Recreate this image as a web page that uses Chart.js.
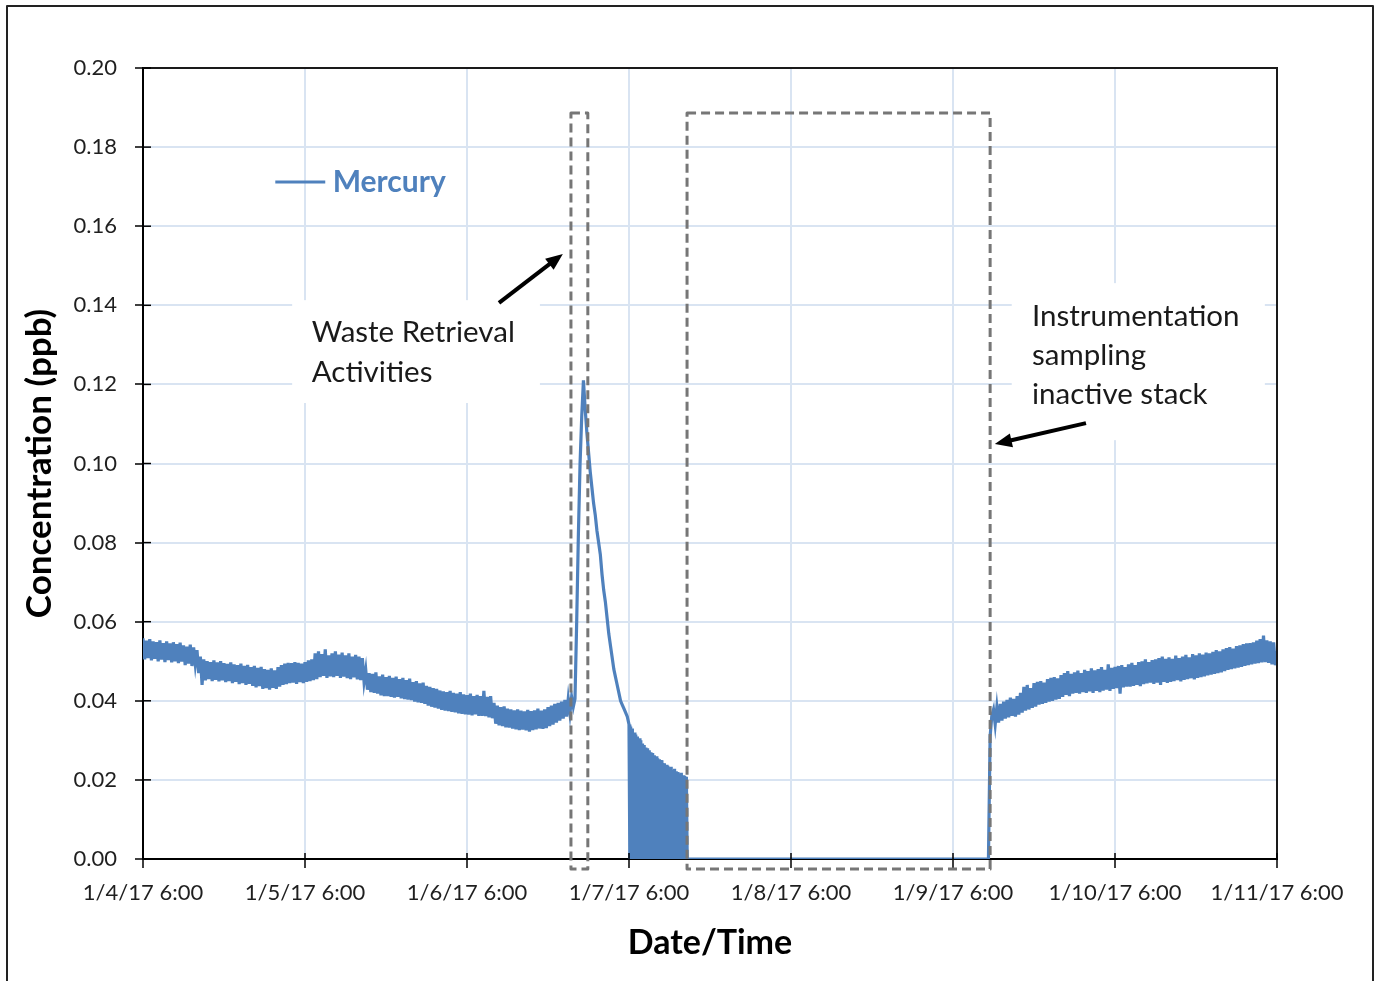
<!DOCTYPE html>
<html>
<head>
<meta charset="utf-8">
<title>Mercury concentration</title>
<script src="https://cdn.jsdelivr.net/npm/chart.js@4.4.0/dist/chart.umd.min.js"></script>
<style>
  html, body { margin: 0; padding: 0; background: #fff; overflow: hidden; }
  #wrap { position: relative; width: 1376px; height: 981px; }
</style>
</head>
<body>
<div id="wrap"><canvas id="mercuryChart"></canvas></div>
<script>
// x is hours after 1/4/17 6:00, one tick per day
const dateLabels = ['1/4/17 6:00', '1/5/17 6:00', '1/6/17 6:00', '1/7/17 6:00',
                    '1/8/17 6:00', '1/9/17 6:00', '1/10/17 6:00', '1/11/17 6:00'];
const yTicks = [0, 0.02, 0.04, 0.06, 0.08, 0.10, 0.12, 0.14, 0.16, 0.18, 0.20];

// baseline before the spike, every 15 min from 0 h (one row = 2 h)
const startBefore = 0, stepBefore = 0.25;
const mercuryBefore = [
    0.0558, 0.0505, 0.0552, 0.0508, 0.0556, 0.0502, 0.0550, 0.0506,
    0.0548, 0.0500, 0.0553, 0.0504, 0.0546, 0.0498, 0.0550, 0.0503,
    0.0545, 0.0497, 0.0548, 0.0500, 0.0543, 0.0495, 0.0547, 0.0499,
    0.0540, 0.0490, 0.0537, 0.0494, 0.0542, 0.0488, 0.0535, 0.0492,
    0.0528, 0.0470, 0.0512, 0.0440, 0.0505, 0.0452, 0.0500, 0.0455,
    0.0498, 0.0450, 0.0502, 0.0453, 0.0497, 0.0449, 0.0500, 0.0452,
    0.0495, 0.0447, 0.0493, 0.0450, 0.0497, 0.0445, 0.0492, 0.0448,
    0.0490, 0.0442, 0.0494, 0.0445, 0.0488, 0.0440, 0.0491, 0.0443,
    0.0485, 0.0438, 0.0488, 0.0434, 0.0483, 0.0437, 0.0486, 0.0430,
    0.0480, 0.0432, 0.0478, 0.0428, 0.0482, 0.0433, 0.0477, 0.0430,
    0.0485, 0.0436, 0.0490, 0.0440, 0.0494, 0.0442, 0.0496, 0.0445,
    0.0495, 0.0446, 0.0498, 0.0443, 0.0496, 0.0447, 0.0494, 0.0445,
    0.0498, 0.0448, 0.0502, 0.0450, 0.0505, 0.0452, 0.0520, 0.0455,
    0.0525, 0.0460, 0.0518, 0.0463, 0.0530, 0.0458, 0.0515, 0.0462,
    0.0520, 0.0460, 0.0525, 0.0463, 0.0517, 0.0458, 0.0522, 0.0461,
    0.0515, 0.0457, 0.0520, 0.0455, 0.0512, 0.0459, 0.0516, 0.0454,
    0.0512, 0.0452, 0.0508, 0.0448, 0.0478, 0.0428, 0.0470, 0.0422,
    0.0468, 0.0420, 0.0472, 0.0418, 0.0462, 0.0414, 0.0466, 0.0412,
    0.0460, 0.0412, 0.0463, 0.0410, 0.0458, 0.0408, 0.0461, 0.0410,
    0.0455, 0.0406, 0.0458, 0.0404, 0.0452, 0.0403, 0.0456, 0.0402,
    0.0447, 0.0398, 0.0450, 0.0396, 0.0444, 0.0395, 0.0446, 0.0392,
    0.0438, 0.0388, 0.0435, 0.0385, 0.0432, 0.0383, 0.0430, 0.0380,
    0.0426, 0.0377, 0.0424, 0.0375, 0.0422, 0.0374, 0.0425, 0.0372,
    0.0420, 0.0371, 0.0418, 0.0368, 0.0422, 0.0367, 0.0416, 0.0366,
    0.0414, 0.0365, 0.0418, 0.0363, 0.0412, 0.0366, 0.0415, 0.0362,
    0.0412, 0.0362, 0.0425, 0.0361, 0.0410, 0.0358, 0.0412, 0.0356,
    0.0395, 0.0342, 0.0388, 0.0338, 0.0384, 0.0336, 0.0386, 0.0333,
    0.0380, 0.0332, 0.0378, 0.0330, 0.0376, 0.0328, 0.0378, 0.0326,
    0.0375, 0.0327, 0.0373, 0.0325, 0.0377, 0.0322, 0.0374, 0.0326,
    0.0376, 0.0328, 0.0380, 0.0330, 0.0375, 0.0329, 0.0378, 0.0331,
    0.0384, 0.0336, 0.0388, 0.0340, 0.0392, 0.0345, 0.0395, 0.0350,
    0.0398, 0.0355, 0.0402, 0.0360, 0.0405, 0.0368, 0.0410, 0.0385,
    0.0405
];

// waste retrieval spike, every 15 min
const startSpike = 64.25, stepSpike = 0.25;
const mercurySpike = [
    0.060, 0.082, 0.100, 0.112, 0.121, 0.114, 0.108, 0.103, 0.098, 0.094, 0.090, 0.087,
    0.083, 0.080, 0.077, 0.072, 0.068, 0.065, 0.061, 0.057, 0.054, 0.051, 0.048, 0.046,
    0.044, 0.042, 0.040, 0.039, 0.038, 0.037, 0.036, 0.034
];

// flickering signal after 1/7 6:00, every 7.5 min
const startFlicker = 72.125, stepFlicker = 0.125;
const mercuryFlicker = [
    0, 0.0335, 0, 0.0330, 0, 0.0320, 0, 0.0315, 0, 0.0310, 0, 0.0305, 0, 0.0300, 0, 0.0292,
    0, 0.0288, 0, 0.0282, 0, 0.0280, 0, 0.0275, 0, 0.0270, 0, 0.0268, 0, 0.0262, 0, 0.0260,
    0, 0.0255, 0, 0.0252, 0, 0.0250, 0, 0.0243, 0, 0.0242, 0, 0.0238, 0, 0.0236, 0, 0.0232,
    0, 0.0233, 0, 0.0225, 0, 0.0228, 0, 0.0222, 0, 0.0220, 0, 0.0216, 0, 0.0218, 0, 0.0212,
    0, 0.0210, 0, 0.0208
];

// inactive stack
const startIdle = 80.625, stepIdle = 44.625;
const mercuryIdle = [0, 0];

// recovery after sampling resumes, every 15 min (rows from 126 h = 2 h each)
const startAfter = 125.5, stepAfter = 0.25;
const mercuryAfter = [
    0.0310, 0.0362,
    0.0378, 0.0340, 0.0385, 0.0345, 0.0392, 0.0350, 0.0398, 0.0355,
    0.0402, 0.0358, 0.0408, 0.0362, 0.0405, 0.0360, 0.0412, 0.0365,
    0.0420, 0.0370, 0.0435, 0.0375, 0.0440, 0.0378, 0.0432, 0.0382,
    0.0445, 0.0385, 0.0448, 0.0390, 0.0450, 0.0392, 0.0446, 0.0395,
    0.0455, 0.0398, 0.0458, 0.0400, 0.0460, 0.0403, 0.0457, 0.0405,
    0.0465, 0.0410, 0.0470, 0.0415, 0.0475, 0.0412, 0.0468, 0.0418,
    0.0472, 0.0420, 0.0476, 0.0418, 0.0470, 0.0422, 0.0478, 0.0420,
    0.0475, 0.0424, 0.0482, 0.0420, 0.0477, 0.0425, 0.0480, 0.0422,
    0.0485, 0.0426, 0.0478, 0.0428, 0.0492, 0.0425, 0.0483, 0.0430,
    0.0486, 0.0432, 0.0488, 0.0418, 0.0490, 0.0434, 0.0485, 0.0436,
    0.0492, 0.0436, 0.0496, 0.0438, 0.0490, 0.0440, 0.0498, 0.0437,
    0.0500, 0.0442, 0.0505, 0.0444, 0.0498, 0.0446, 0.0503, 0.0443,
    0.0505, 0.0446, 0.0508, 0.0440, 0.0512, 0.0448, 0.0506, 0.0445,
    0.0510, 0.0448, 0.0506, 0.0450, 0.0514, 0.0452, 0.0508, 0.0449,
    0.0512, 0.0453, 0.0516, 0.0455, 0.0510, 0.0457, 0.0518, 0.0454,
    0.0515, 0.0458, 0.0520, 0.0460, 0.0517, 0.0462, 0.0522, 0.0464,
    0.0520, 0.0466, 0.0524, 0.0468, 0.0528, 0.0470, 0.0525, 0.0472,
    0.0530, 0.0475, 0.0533, 0.0478, 0.0536, 0.0480, 0.0532, 0.0482,
    0.0538, 0.0484, 0.0540, 0.0486, 0.0543, 0.0488, 0.0545, 0.0490,
    0.0546, 0.0492, 0.0548, 0.0494, 0.0552, 0.0495, 0.0556, 0.0497,
    0.0565, 0.0498, 0.0553, 0.0496, 0.0550, 0.0492, 0.0548, 0.0490,
    0.0525
];

const wasteNote = ['Waste Retrieval', 'Activities'];
const stackNote = ['Instrumentation', 'sampling', 'inactive stack'];

const toPoints = (start, step, values) => values.map((v, i) => ({ x: start + i * step, y: v }));

const mercuryPoints = [].concat(
    toPoints(startBefore, stepBefore, mercuryBefore),
    toPoints(startSpike, stepSpike, mercurySpike),
    toPoints(startFlicker, stepFlicker, mercuryFlicker),
    toPoints(startIdle, stepIdle, mercuryIdle),
    toPoints(startAfter, stepAfter, mercuryAfter)
);

const FONT = 'Lato, "Open Sans", sans-serif';
const BLUE = '#4f81bd';

function drawArrow(ctx, x0, y0, x1, y1) {
    const a = Math.atan2(y1 - y0, x1 - x0);
    const head = 17, half = 7;
    ctx.beginPath();
    ctx.moveTo(x0, y0);
    ctx.lineTo(x1 - Math.cos(a) * head * 0.8, y1 - Math.sin(a) * head * 0.8);
    ctx.stroke();
    ctx.beginPath();
    ctx.moveTo(x1, y1);
    ctx.lineTo(x1 - head * Math.cos(a) + half * Math.sin(a), y1 - head * Math.sin(a) - half * Math.cos(a));
    ctx.lineTo(x1 - head * Math.cos(a) - half * Math.sin(a), y1 - head * Math.sin(a) + half * Math.cos(a));
    ctx.closePath();
    ctx.fill();
}

const extras = {
    id: 'extras',
    beforeDatasetsDraw(chart) {
        const { ctx, scales: { x, y } } = chart;
        ctx.save();
        ctx.fillStyle = '#fff';
        // note backgrounds hide the gridlines
        ctx.fillRect(x.getPixelForValue(22.1), y.getPixelForValue(0.1413),
            x.getPixelForValue(58.8) - x.getPixelForValue(22.1), y.getPixelForValue(0.1153) - y.getPixelForValue(0.1413));
        ctx.fillRect(x.getPixelForValue(128.7), y.getPixelForValue(0.1456),
            x.getPixelForValue(166.2) - x.getPixelForValue(128.7), y.getPixelForValue(0.1059) - y.getPixelForValue(0.1456));
        ctx.restore();
    },
    afterDraw(chart) {
        const { ctx, chartArea: area, scales: { x, y } } = chart;
        ctx.save();

        // plot frame top + right
        ctx.strokeStyle = '#1a1a1a';
        ctx.lineWidth = 2;
        ctx.beginPath();
        ctx.moveTo(area.left, area.top);
        ctx.lineTo(area.right, area.top);
        ctx.lineTo(area.right, area.bottom);
        ctx.stroke();

        // tick marks on the inner side
        ctx.strokeStyle = '#000';
        ctx.lineWidth = 1.5;
        y.ticks.forEach(t => {
            const py = y.getPixelForValue(t.value);
            ctx.beginPath(); ctx.moveTo(area.left, py); ctx.lineTo(area.left + 8, py); ctx.stroke();
        });
        x.ticks.forEach(t => {
            const px = x.getPixelForValue(t.value);
            ctx.beginPath(); ctx.moveTo(px, area.bottom); ctx.lineTo(px, area.bottom - 6); ctx.stroke();
        });

        // dashed boxes
        ctx.strokeStyle = '#767676';
        ctx.lineWidth = 3;
        ctx.lineJoin = 'round';
        ctx.setLineDash([9, 5]);
        [[63.4, 65.9], [80.6, 125.5]].forEach(([h0, h1]) => {
            const l = x.getPixelForValue(h0), r = x.getPixelForValue(h1);
            const t = y.getPixelForValue(0.1886), b = y.getPixelForValue(-0.0025);
            ctx.strokeRect(l, t, r - l, b - t);
        });
        ctx.setLineDash([]);

        // arrows
        ctx.strokeStyle = '#000';
        ctx.fillStyle = '#000';
        ctx.lineWidth = 4;
        drawArrow(ctx, x.getPixelForValue(52.74), y.getPixelForValue(0.1406), x.getPixelForValue(62.2), y.getPixelForValue(0.1530));
        drawArrow(ctx, x.getPixelForValue(139.7), y.getPixelForValue(0.1102), x.getPixelForValue(126.2), y.getPixelForValue(0.1049));

        // notes
        ctx.fillStyle = '#1a1a1a';
        ctx.font = '29.5px ' + FONT;
        ctx.textBaseline = 'alphabetic';
        ctx.textAlign = 'left';
        wasteNote.forEach((s, i) => ctx.fillText(s, x.getPixelForValue(25.0), y.getPixelForValue(0.1307) + i * 40));
        stackNote.forEach((s, i) => ctx.fillText(s, x.getPixelForValue(131.7), y.getPixelForValue(0.1348) + i * 39));

        // legend inside plot
        const ds = chart.data.datasets[0];
        const ly = y.getPixelForValue(0.1712);
        ctx.strokeStyle = ds.borderColor;
        ctx.lineWidth = 3;
        ctx.beginPath();
        ctx.moveTo(x.getPixelForValue(19.6), ly);
        ctx.lineTo(x.getPixelForValue(27.0), ly);
        ctx.stroke();
        ctx.fillStyle = ds.borderColor;
        ctx.font = 'bold 30px ' + FONT;
        ctx.textBaseline = 'middle';
        ctx.fillText(ds.label, x.getPixelForValue(28.1), ly);

        // picture frame
        ctx.strokeStyle = '#222';
        ctx.lineWidth = 2;
        ctx.strokeRect(7, 6, 1366, 990);
        ctx.restore();
    }
};

const ctx = document.getElementById('mercuryChart').getContext('2d');
const mercuryChart = new Chart(ctx, {
    type: 'line',
    data: {
        datasets: [{
            label: 'Mercury',
            data: mercuryPoints,
            borderColor: BLUE,
            backgroundColor: BLUE,
            borderWidth: 3.2,
            pointRadius: 0,
            tension: 0,
            fill: false
        }]
    },
    options: {
        responsive: true,
        maintainAspectRatio: false,
        animation: false,
        layout: { padding: { top: 68, right: 99, bottom: 0, left: 0 } },
        plugins: {
            legend: { display: false },
            tooltip: { enabled: false }
        },
        scales: {
            x: {
                type: 'linear',
                min: 0,
                max: 168,
                afterBuildTicks: (scale) => { scale.ticks = dateLabels.map((_, i) => ({ value: i * 24 })); },
                afterFit: (scale) => { scale.height = 122; },
                ticks: {
                    callback: (v) => dateLabels[Math.round(v / 24)],
                    color: '#1f1f1f',
                    font: { family: FONT, size: 22 },
                    padding: 12,
                    maxRotation: 0,
                    autoSkip: false
                },
                grid: { color: '#d9e4f2', lineWidth: 2, tickColor: '#000', tickLength: 9, tickWidth: 1.5 },
                border: { color: '#000', width: 2 },
                title: {
                    display: true,
                    text: 'Date/Time',
                    color: '#000',
                    font: { family: FONT, size: 34, weight: 'bold' },
                    padding: { top: 0, bottom: 18 }
                }
            },
            y: {
                min: 0,
                max: 0.2,
                afterBuildTicks: (scale) => { scale.ticks = yTicks.map(v => ({ value: v })); },
                afterFit: (scale) => { scale.width = 143; },
                ticks: {
                    callback: (v) => v.toFixed(2),
                    color: '#1f1f1f',
                    font: { family: FONT, size: 22 },
                    padding: 18
                },
                grid: { color: '#d9e4f2', lineWidth: 2, tickColor: '#000', tickLength: 8, tickWidth: 1.5 },
                border: { color: '#000', width: 2 },
                title: {
                    display: true,
                    text: 'Concentration (ppb)',
                    color: '#000',
                    font: { family: FONT, size: 35, weight: 'bold' },
                    padding: { top: 19, bottom: 0 }
                }
            }
        }
    },
    plugins: [extras]
});
</script>
</body>
</html>
